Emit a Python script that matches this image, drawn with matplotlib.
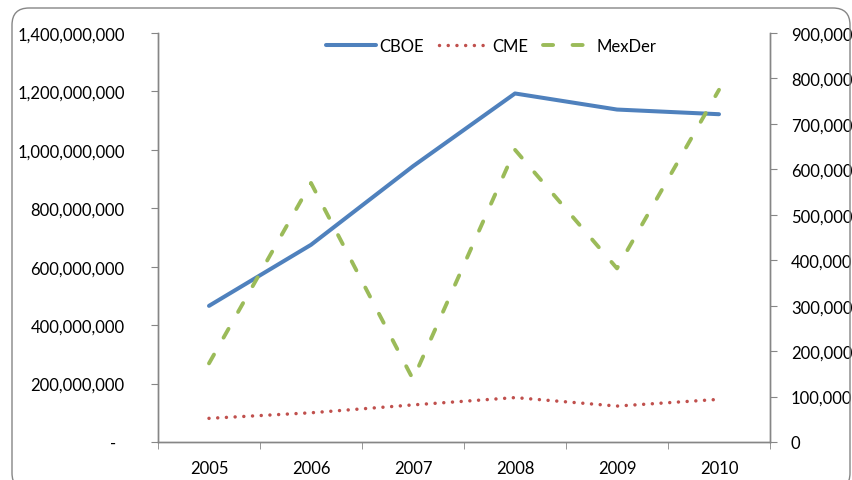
import numpy as np
import matplotlib
matplotlib.use("Agg")
import matplotlib.pyplot as plt
from matplotlib.patches import FancyBboxPatch
from matplotlib.ticker import FuncFormatter, MultipleLocator, FixedLocator

# Data
years = ["2005", "2006", "2007", "2008", "2009", "2010"]
cboe = [466e6, 675e6, 944e6, 1193e6, 1138e6, 1122e6]
cme = [81e6, 100e6, 127e6, 152e6, 123e6, 146e6]
mexder = [173000, 570000, 138000, 643000, 382000, 775000]

plt.rcParams['font.family'] = ['Lato', 'DejaVu Sans']
gray = '#868686'
fs = 12

fig = plt.figure(figsize=(8.52, 4.81), dpi=100)
ax = fig.add_axes([158/852, 38/481, 612/852, 409/481])
ax2 = ax.twinx()

x = np.arange(len(years))
l1, = ax.plot(x, cboe, color='#4F81BD', lw=2.9, solid_capstyle='round',
              solid_joinstyle='round', label='CBOE')
l2, = ax.plot(x, cme, color='#C0504D', lw=2.5, linestyle=(0, (0.01, 2.5)),
              dash_capstyle='round', label='CME')
l3, = ax2.plot(x, mexder, color='#9BBB59', lw=2.8, linestyle=(0, (2.6, 5.0)),
               dash_capstyle='round', label='MexDer')

ax.set_xlim(-0.5, 5.5)
ax.set_ylim(0, 1.4e9)
ax2.set_ylim(0, 900000)

ax.yaxis.set_major_locator(MultipleLocator(2e8))
ax2.yaxis.set_major_locator(MultipleLocator(1e5))
ax.yaxis.set_major_formatter(FuncFormatter(lambda v, p: '-  ' if v == 0 else f'{v:,.0f}'))
ax2.yaxis.set_major_formatter(FuncFormatter(lambda v, p: f'{v:,.0f}'))

ax.set_xticks(x)
ax.set_xticklabels(years)
ax.xaxis.set_minor_locator(FixedLocator(np.arange(-0.5, 6, 1)))
ax.tick_params(axis='x', which='major', length=0, pad=13, labelsize=fs)
ax.tick_params(axis='x', which='minor', length=5, color=gray, direction='out')
ax.tick_params(axis='y', length=5, color=gray, direction='out', pad=19, labelsize=fs)
ax2.tick_params(axis='y', length=5, color=gray, direction='out', pad=10, labelsize=fs)

for a in (ax, ax2):
    a.spines['top'].set_visible(False)
    for s in ('left', 'right', 'bottom'):
        a.spines[s].set_color(gray)
        a.spines[s].set_linewidth(1.0)

leg = ax.legend(handles=[l1, l2, l3], loc='upper center', bbox_to_anchor=(0.544, 1.025),
                ncol=3, frameon=False, fontsize=fs, handlelength=3.0,
                handletextpad=0.2, columnspacing=0.9)

border = FancyBboxPatch((12/852, -10/481), 838/852, 481/481 - 9/481 + 10/481,
                        boxstyle='round,pad=0,rounding_size=0.02',
                        transform=fig.transFigure, fill=False,
                        edgecolor=gray, lw=1.0, mutation_aspect=852/481)
fig.patches.append(border)

fig.savefig('out.png', dpi=100)
